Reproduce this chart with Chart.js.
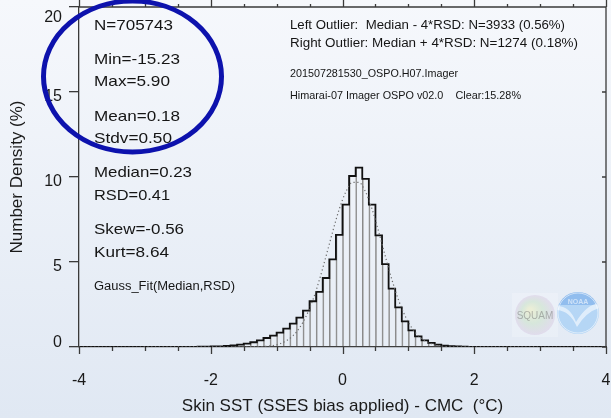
<!DOCTYPE html>
<html><head><meta charset="utf-8">
<title>Skin SST - CMC histogram</title>
<script src="https://cdn.jsdelivr.net/npm/chart.js@4"></script>
<style>
  html, body { margin: 0; padding: 0; background: #eef2f8; }
  canvas { display: block; }
</style></head>
<body>
<canvas id="grafico" width="611" height="418"></canvas>
<script>
// --- DADOS ---
// histograma: centro de cada bin (largura 0.1) e densidade em %
const binCenters = [-2.35, -2.25, -2.15, -2.05, -1.95, -1.85, -1.75, -1.65, -1.55, -1.45,
                    -1.35, -1.25, -1.15, -1.05, -0.95, -0.85, -0.75, -0.65, -0.55, -0.45,
                    -0.35, -0.25, -0.15, -0.05, 0.05, 0.15, 0.25, 0.35, 0.45, 0.55,
                    0.65, 0.75, 0.85, 0.95, 1.05, 1.15, 1.25, 1.35, 1.45, 1.55,
                    1.65, 1.75, 1.85, 1.95, 2.05];
const density = [0.01, 0.01, 0.02, 0.02, 0.03, 0.04, 0.06, 0.10, 0.14, 0.20,
                 0.28, 0.39, 0.53, 0.67, 0.85, 1.08, 1.37, 1.73, 2.14, 2.69,
                 3.24, 4.06, 5.16, 6.60, 8.37, 10.06, 10.55, 9.89, 8.37, 6.57,
                 4.88, 3.43, 2.33, 1.51, 0.98, 0.63, 0.39, 0.24, 0.14, 0.08,
                 0.05, 0.03, 0.02, 0.01, 0.01];

// curva pontilhada Gauss_Fit(Median,RSD)
const fitX = [-4, -1.25, -1.15, -1.05, -0.95, -0.85, -0.75, -0.65, -0.55, -0.45, -0.35,
              -0.25, -0.15, -0.05, 0.05, 0.15, 0.25, 0.35, 0.45, 0.55, 0.65,
              0.75, 0.85, 0.95, 1.05, 1.15, 1.25, 1.35, 1.45, 1.55, 1.65, 1.75, 4];
const fitY = [0, 0.02, 0.04, 0.09, 0.19, 0.37, 0.67, 1.14, 1.83, 2.77, 3.96,
              5.34, 6.77, 8.10, 9.12, 9.68, 9.68, 9.12, 8.10, 6.77, 5.34,
              3.96, 2.77, 1.83, 1.14, 0.67, 0.37, 0.19, 0.09, 0.04, 0.02, 0.01, 0];

const xRange = [-4, 4];
const yRange = [0, 20];
const xTickLabels = [-4, -2, 0, 2, 4];

const statsText = ['N=705743', 'Min=-15.23', 'Max=5.90', 'Mean=0.18', 'Stdv=0.50',
                   'Median=0.23', 'RSD=0.41', 'Skew=-0.56', 'Kurt=8.64', 'Gauss_Fit(Median,RSD)'];
const infoText = ['Left Outlier:  Median - 4*RSD: N=3933 (0.56%)',
                  'Right Outlier: Median + 4*RSD: N=1274 (0.18%)',
                  '201507281530_OSPO.H07.Imager',
                  'Himarai-07 Imager OSPO v02.0    Clear:15.28%'];

// --- LAYOUT DOS TEXTOS (baseline y, tamanho, largura alvo) ---
const FONT = '"Liberation Sans", Arial, Helvetica, sans-serif';
const statsPos = [[30, 15, 79], [64, 15, 86], [86, 15, 76], [120.7, 15, 86], [142.5, 15, 78],
                  [177.3, 15, 98], [200, 15, 76], [234, 15, 90], [256.7, 15, 75], [290, 12.5, 141]];
const infoPos = [[29.3, 12.3, 275], [47.3, 12.3, 288], [77.3, 11.5, 168], [99, 11.5, 231]];

// texto esticado na horizontal para bater com a largura da figura
function fitText(ctx, text, x, y, size, width) {
    ctx.save();
    ctx.font = size + 'px ' + FONT;
    const w = ctx.measureText(text).width;
    ctx.translate(x, y);
    ctx.scale(width / w, 1);
    ctx.fillText(text, 0, 0);
    ctx.restore();
}

const fundo = {
    id: 'fundo',
    beforeDraw(chart) {
        const ctx = chart.ctx;
        const g = ctx.createLinearGradient(0, 0, 0, chart.height);
        g.addColorStop(0, '#f6f8fc');
        g.addColorStop(1, '#e0e8f3');
        ctx.save();
        ctx.fillStyle = g;
        ctx.fillRect(0, 0, chart.width, chart.height);
        ctx.restore();
    }
};

const moldura = {
    id: 'moldura',
    afterDraw(chart) {
        const ctx = chart.ctx;
        const a = chart.chartArea;
        const x = chart.scales.x, y = chart.scales.y;
        ctx.save();
        ctx.strokeStyle = '#3a3a3a';
        ctx.lineWidth = 1.3;
        ctx.beginPath();
        ctx.moveTo(a.left, a.top); ctx.lineTo(a.right, a.top); ctx.lineTo(a.right, a.bottom);
        // ticks x (baixo e topo, para fora)
        x.ticks.forEach(t => {
            const px = Math.round(x.getPixelForValue(t.value)) + 0.5;
            const major = xTickLabels.includes(t.value);
            ctx.moveTo(px, a.bottom); ctx.lineTo(px, a.bottom + (major ? 7 : 4));
            ctx.moveTo(px, a.top); ctx.lineTo(px, a.top - (major ? 7 : 3));
        });
        // ticks y à direita (para dentro)
        y.ticks.forEach(t => {
            const py = y.getPixelForValue(t.value);
            ctx.moveTo(a.right, py); ctx.lineTo(a.right - 4, py);
        });
        ctx.stroke();

        // rótulos do eixo y: o primeiro e o último ficam para dentro do eixo
        ctx.fillStyle = '#1a1a1a';
        ctx.font = '16px ' + FONT;
        ctx.textAlign = 'right';
        ctx.textBaseline = 'alphabetic';
        const last = y.ticks.length - 1;
        y.ticks.forEach((t, i) => {
            const py = y.getPixelForValue(t.value);
            const dy = i === 0 ? 0 : (i === last ? 15 : 8.5);
            ctx.fillText(String(t.value), 62, py + dy);
        });
        ctx.textAlign = 'left';

        // estatísticas
        ctx.fillStyle = '#151515';
        statsText.forEach((s, i) => fitText(ctx, s, 94, statsPos[i][0], statsPos[i][1], statsPos[i][2]));
        infoText.forEach((s, i) => fitText(ctx, s, 290, infoPos[i][0], infoPos[i][1], infoPos[i][2]));

        // logos SQUAM / NOAA (apagados)
        ctx.save();
        ctx.globalAlpha = 0.6;
        ctx.fillStyle = 'rgba(255,255,255,0.35)';
        ctx.fillRect(512, 293, 46, 44);
        const rg = ctx.createRadialGradient(530, 310, 2, 535, 315, 20);
        rg.addColorStop(0, 'rgba(235,235,170,0.7)');
        rg.addColorStop(0.5, 'rgba(180,215,170,0.6)');
        rg.addColorStop(1, 'rgba(205,180,215,0.55)');
        ctx.fillStyle = rg;
        ctx.beginPath(); ctx.arc(535, 315, 20, 0, Math.PI * 2); ctx.fill();
        ctx.fillStyle = 'rgba(110,110,110,0.8)';
        ctx.font = '10px ' + FONT;
        ctx.textAlign = 'center';
        ctx.fillText('SQUAM', 535, 319);

        ctx.save();
        ctx.beginPath(); ctx.arc(578, 313, 21, 0, Math.PI * 2); ctx.clip();
        ctx.fillStyle = 'rgba(140,195,245,0.9)';
        ctx.fillRect(556, 291, 44, 44);
        ctx.fillStyle = 'rgba(105,160,230,0.8)';
        ctx.fillRect(556, 291, 44, 14);
        ctx.fillStyle = 'rgba(255,255,255,0.95)';
        ctx.beginPath();
        ctx.moveTo(557, 306);
        ctx.quadraticCurveTo(570, 306, 576, 322);
        ctx.quadraticCurveTo(586, 305, 599, 303);
        ctx.lineTo(599, 308);
        ctx.quadraticCurveTo(586, 312, 577, 327);
        ctx.quadraticCurveTo(570, 311, 557, 310);
        ctx.fill();
        ctx.restore();
        ctx.strokeStyle = 'rgba(255,255,255,0.9)';
        ctx.lineWidth = 1;
        ctx.beginPath(); ctx.arc(578, 313, 20, 0, Math.PI * 2); ctx.stroke();
        ctx.fillStyle = 'rgba(255,255,255,0.95)';
        ctx.font = 'bold 7px ' + FONT;
        ctx.fillText('NOAA', 578, 304);
        ctx.restore();

        // elipse azul de destaque
        ctx.strokeStyle = '#0d12ad';
        ctx.lineWidth = 5;
        ctx.beginPath();
        ctx.ellipse(132.5, 76.5, 89, 75.5, 0, 0, Math.PI * 2);
        ctx.stroke();
        ctx.restore();
    }
};

const barData = binCenters.map((c, i) => ({ x: c, y: density[i] }));
const stepData = [{ x: xRange[0], y: 0 }].concat(barData, [{ x: xRange[1], y: 0 }]);
const fitData = fitX.map((v, i) => ({ x: v, y: fitY[i] }));

const ctx = document.getElementById('grafico').getContext('2d');
new Chart(ctx, {
    type: 'bar',
    data: {
        datasets: [
            { type: 'line', label: 'Gauss_Fit', data: fitData, borderColor: '#6a6a6a', borderWidth: 1.2,
              borderDash: [1.2, 2.6], pointRadius: 0, cubicInterpolationMode: 'monotone', order: 0 },
            { type: 'line', label: 'Histograma', data: stepData, stepped: 'middle', borderColor: '#111',
              borderWidth: 1.8, pointRadius: 0, order: 1 },
            { type: 'bar', label: 'Bins', data: barData, backgroundColor: 'rgba(255,255,255,0.15)',
              borderColor: '#8a8a8a', borderWidth: { left: 1, right: 0, top: 0, bottom: 0 },
              barPercentage: 1, categoryPercentage: 1, order: 2 }
        ]
    },
    options: {
        responsive: false,
        animation: false,
        layout: { padding: { top: 7, right: 5, left: 0, bottom: 0 } },
        plugins: { legend: { display: false }, tooltip: { enabled: false } },
        scales: {
            x: {
                type: 'linear', position: 'bottom', min: xRange[0], max: xRange[1], offset: false,
                ticks: { stepSize: 0.5, autoSkip: false, maxRotation: 0, padding: 24, color: '#1a1a1a',
                         font: { family: FONT, size: 16 },
                         callback: v => xTickLabels.includes(v) ? String(v) : '' },
                grid: { drawOnChartArea: false, drawTicks: false, offset: false },
                border: { display: true, color: '#3a3a3a', width: 1.3 },
                title: { display: true, text: 'Skin SST (SSES bias applied) - CMC  (°C)', color: '#1a1a1a',
                         font: { family: FONT, size: 17 }, padding: { top: 0, bottom: 1 } },
                afterFit: s => { s.height = 71; s.paddingLeft = 0; s.paddingRight = 0; }
            },
            y: {
                min: yRange[0], max: yRange[1],
                // rótulos desenhados no plugin (alinhamento do primeiro/último)
                ticks: { stepSize: 5, padding: 7, color: 'rgba(0,0,0,0)', font: { family: FONT, size: 16 } },
                grid: { drawOnChartArea: false, drawTicks: true, tickLength: 10, color: '#3a3a3a', lineWidth: 1.3 },
                border: { display: true, color: '#3a3a3a', width: 1.3 },
                title: { display: true, text: 'Number Density (%)', color: '#1a1a1a',
                         font: { family: FONT, size: 17 }, padding: { top: 7, bottom: 0 } },
                afterFit: s => { s.width = 79; s.paddingTop = 0; s.paddingBottom = 0; }
            }
        }
    },
    plugins: [fundo, moldura]
});
</script></body></html>
